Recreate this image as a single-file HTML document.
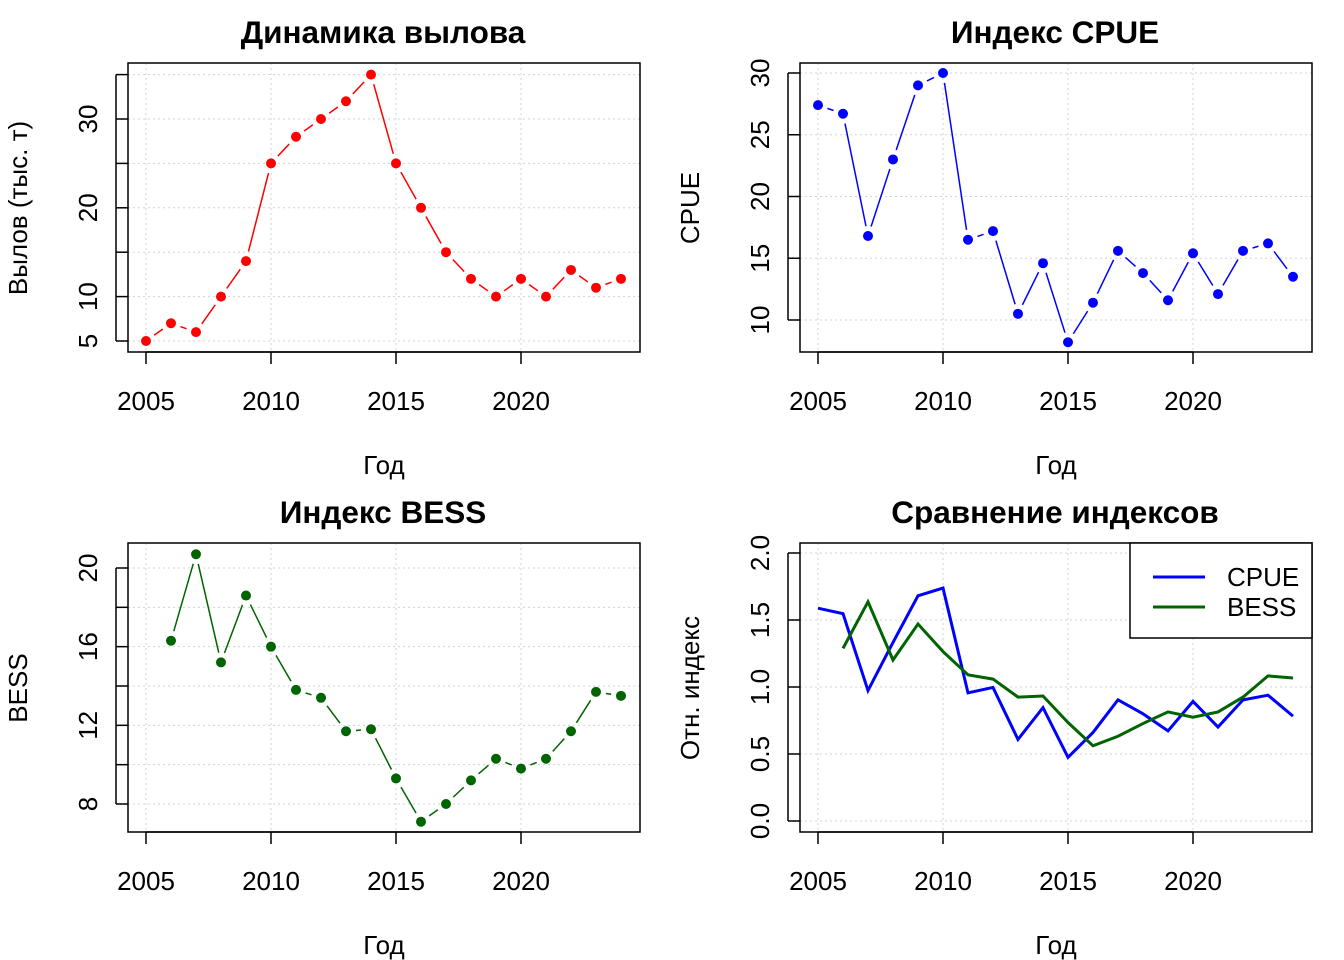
<!DOCTYPE html>
<html><head><meta charset="utf-8"><style>
html,body{margin:0;padding:0;background:#fff}
svg{display:block;font-family:"Liberation Sans",Arial,sans-serif}
</style></head><body>
<svg id="chart" width="1344" height="960" viewBox="0 0 1344 960" xmlns="http://www.w3.org/2000/svg"></svg>
<script>
const years = [2005,2006,2007,2008,2009,2010,2011,2012,2013,2014,2015,2016,2017,2018,2019,2020,2021,2022,2023,2024];
const catchVals = [5,7,6,10,14,25,28,30,32,35,25,20,15,12,10,12,10,13,11,12];
const cpueVals = [27.4,26.7,16.8,23,29,30,16.5,17.2,10.5,14.6,8.2,11.4,15.6,13.8,11.6,15.4,12.1,15.6,16.2,13.5];
const bessVals = [null,16.3,20.7,15.2,18.6,16.0,13.8,13.4,11.7,11.8,9.3,7.1,8.0,9.2,10.3,9.8,10.3,11.7,13.7,13.5];
const xTicks = [2005,2010,2015,2020];
const catchTicks = [5,10,15,20,25,30,35];
const catchTickLabels = ["5","10","","20","","30",""];
const cpueTicks = [10,15,20,25,30];
const bessTicks = [8,10,12,14,16,18,20];
const bessTickLabels = ["8","","12","","16","","20"];
const relTicks = [0,0.5,1,1.5,2];
const relTickLabels = ["0.0","0.5","1.0","1.5","2.0"];

const NS="http://www.w3.org/2000/svg";
const svg=document.getElementById('chart');
function mk(tag,attrs,parent){const e=document.createElementNS(NS,tag);for(const k in attrs)e.setAttribute(k,attrs[k]);(parent||svg).appendChild(e);return e;}

function mean(a){const v=a.filter(x=>x!=null);return v.reduce((s,x)=>s+x,0)/v.length;}
const cm=mean(cpueVals), bm=mean(bessVals);
const cpueRel=cpueVals.map(v=>v==null?null:v/cm);
const bessRel=bessVals.map(v=>v==null?null:v/bm);

function panel(o){
  const g=mk('g',{});
  
  
  const L=o.x0,R=o.x0+512,T=o.y0,B=o.y0+289;
  const xs=v=>L+18+(v-2005)*25;
  const ys=v=>o.yB-(v-o.yMin)*(o.yB-o.yT)/(o.yMax-o.yMin);
  xTicks.forEach(t=>{const l=mk('line',{x1:xs(t),x2:xs(t),y1:T,y2:B,stroke:'#d3d3d3','stroke-dasharray':'2,3','stroke-width':1},g);});
  o.yTicks.forEach(t=>{const l=mk('line',{x1:L,x2:R,y1:ys(t),y2:ys(t),stroke:'#d3d3d3','stroke-dasharray':'2,3','stroke-width':1},g);});
  o.series.forEach(s=>{
    const pts=[];years.forEach((y,i)=>{if(s.vals[i]!=null)pts.push([xs(y),ys(s.vals[i])]);});
    if(s.type==='b'){
      for(let i=0;i<pts.length-1;i++){
        const [x1,y1]=pts[i],[x2,y2]=pts[i+1];const d=Math.hypot(x2-x1,y2-y1),gap=10;
        if(d>2*gap){const ux=(x2-x1)/d,uy=(y2-y1)/d;
          const l=mk('line',{x1:x1+ux*gap,y1:y1+uy*gap,x2:x2-ux*gap,y2:y2-uy*gap,stroke:s.color,'stroke-width':1.5},g);
          }
      }
      pts.forEach(p=>{const c=mk('circle',{cx:p[0],cy:p[1],r:5,fill:s.color},g);});
    } else {
      const pl=mk('polyline',{points:pts.map(p=>p.join(',')).join(' '),fill:'none',stroke:s.color,'stroke-width':3},g);
      
    }
  });
  const box=mk('rect',{x:L,y:T,width:512,height:289,fill:'none',stroke:'#000','stroke-width':1.5},g);
  
  mk('line',{x1:xs(2005),x2:xs(2020),y1:B,y2:B,stroke:'#000','stroke-width':1.5},g);
  xTicks.forEach(t=>{mk('line',{x1:xs(t),x2:xs(t),y1:B,y2:B+12,stroke:'#000','stroke-width':1.5},g);
    const tx=mk('text',{x:xs(t),y:B+58,'font-size':26,'text-anchor':'middle'},g);tx.textContent=t;
    });
  mk('line',{x1:L-12,x2:L-12,y1:ys(o.yTicks[0]),y2:ys(o.yTicks[o.yTicks.length-1]),stroke:'#000','stroke-width':1.5},g);
  o.yTicks.forEach((t,i)=>{mk('line',{x1:L-12,x2:L,y1:ys(t),y2:ys(t),stroke:'#000','stroke-width':1.5},g);
    const lab=o.yLabels?o.yLabels[i]:String(t); if(!lab)return;
    const tx=mk('text',{x:0,y:0,'font-size':26,'text-anchor':'middle',transform:`translate(${L-31},${ys(t)}) rotate(-90)`},g);tx.textContent=lab;
    });
  const xt=mk('text',{x:L+256,y:B+122,'font-size':26,'text-anchor':'middle'},g);xt.textContent='Год';
  
  const yt=mk('text',{x:0,y:0,'font-size':26,'text-anchor':'middle',transform:`translate(${L-101},${T+145}) rotate(-90)`},g);yt.textContent=o.ylab;
  
  const tt=mk('text',{x:L+255,y:T-20,'font-size':31.5,'font-weight':'bold','text-anchor':'middle'},g);tt.textContent=o.title;
  
  return g;
}

panel({name:'catch-panel',x0:128,y0:63,yMin:5,yMax:30,yB:341,yT:119,yTicks:catchTicks,yLabels:catchTickLabels,ylab:'Вылов (тыс. т)',title:'Динамика вылова',
  series:[{key:'catch',vals:catchVals,color:'#ff0000',type:'b'}]});
panel({name:'cpue-panel',x0:800,y0:63,yMin:10,yMax:30,yB:320,yT:73,yTicks:cpueTicks,ylab:'CPUE',title:'Индекс CPUE',
  series:[{key:'cpue',vals:cpueVals,color:'#0000ff',type:'b'}]});
panel({name:'bess-panel',x0:128,y0:543,yMin:8,yMax:20,yB:804,yT:568,yTicks:bessTicks,yLabels:bessTickLabels,ylab:'BESS',title:'Индекс BESS',
  series:[{key:'bess',vals:bessVals,color:'#006400',type:'b'}]});
panel({name:'compare-panel',x0:800,y0:543,yMin:0,yMax:2,yB:821,yT:553,yTicks:relTicks,yLabels:relTickLabels,ylab:'Отн. индекс',title:'Сравнение индексов',
  series:[{key:'cpue-rel',vals:cpueRel,color:'#0000ff',type:'l'},{key:'bess-rel',vals:bessRel,color:'#006400',type:'l'}]});

const lg=mk('g',{});


mk('rect',{x:1130,y:543,width:182,height:95,fill:'#fff',stroke:'#000','stroke-width':1.5},lg);
[['CPUE','#0000ff',577],['BESS','#006400',607]].forEach(e=>{
  const it=mk('g',{},lg);
  
  
  mk('line',{x1:1153,x2:1205,y1:e[2],y2:e[2],stroke:e[1],'stroke-width':3},it);
  const t=mk('text',{x:1227,y:e[2]+9,'font-size':26},it);t.textContent=e[0];
});
</script>
</body></html>
